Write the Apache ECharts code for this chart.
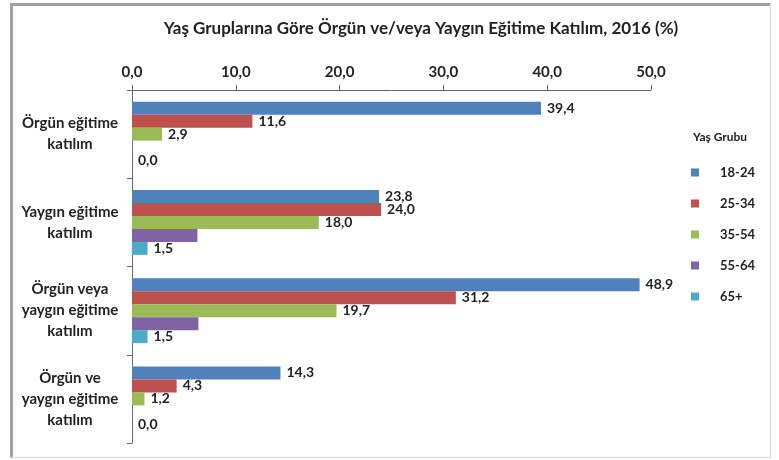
<!DOCTYPE html>
<html><head><meta charset="utf-8">
<script src="https://cdn.jsdelivr.net/npm/echarts@6/dist/echarts.min.js"></script>
<style>html,body{margin:0;padding:0;background:#fff}#c{width:779px;height:460px}</style>
</head><body><div id="c"></div>
<script>
const categories = ["Örgün eğitime\nkatılım", "Yaygın eğitime\nkatılım", "Örgün veya\nyaygın eğitime\nkatılım", "Örgün ve\nyaygın eğitime\nkatılım"];
const seriesNames = ["18-24", "25-34", "35-54", "55-64", "65+"];
const v1824 = [39.4, 23.8, 48.9, 14.3];
const v2534 = [11.6, 24.0, 31.2, 4.3];
const v3554 = [2.9, 18.0, 19.7, 1.2];
const v5564 = [0.1, 6.3, 6.4, 0.1];
const v65 = [0.0, 1.5, 1.5, 0.0];
const xTicks = [0, 10, 20, 30, 40, 50];
const colors = ["#4F81BD", "#C0504D", "#9BBB59", "#8064A2", "#4BACC6"];
const showLabel = [true, true, true, false, true];

const FONT = "Lato";
const fmt = v => v.toFixed(1).replace('.', ',');
const allData = [v1824, v2534, v3554, v5564, v65];

const chart = echarts.init(document.getElementById('c'), null, {renderer: 'canvas'});
chart.setOption({
  animation: false,
  backgroundColor: '#fff',
  textStyle: {fontFamily: FONT},
  title: {
    text: "Yaş Gruplarına Göre Örgün ve/veya Yaygın Eğitime Katılım, 2016 (%)",
    left: 416, top: 15, textAlign: 'center',
    textStyle: {fontFamily: FONT, fontSize: 17, fontWeight: 'bold', color: '#222'}
  },
  graphic: [
    {type: 'rect', shape: {x: 10, y: 3, width: 3, height: 455}, style: {fill: '#a0a0a0'}, silent: true},
    {type: 'rect', shape: {x: 10, y: 3, width: 761, height: 3}, style: {fill: '#a0a0a0'}, silent: true},
    {type: 'rect', shape: {x: 770, y: 3, width: 1, height: 455}, style: {fill: '#d8d8d8'}, silent: true},
    {type: 'rect', shape: {x: 10, y: 457, width: 761, height: 1}, style: {fill: '#d8d8d8'}, silent: true},
    {type: 'text', left: 693, top: 131, style: {text: 'Yaş Grubu', font: 'bold 12px ' + FONT, fill: '#222'}}
  ],
  legend: {
    orient: 'vertical', left: 686, top: 161,
    itemWidth: 8, itemHeight: 8, itemGap: 18,
    icon: 'rect',
    data: seriesNames,
    textStyle: {fontFamily: FONT, fontSize: 13, fontWeight: 'bold', color: '#222', padding: [0, 0, 0, 16]}
  },
  grid: {left: 132, right: 128, top: 90, bottom: 17, containLabel: false},
  xAxis: {
    type: 'value', position: 'top', min: xTicks[0], max: xTicks[xTicks.length - 1], interval: 10,
    axisLine: {show: true, lineStyle: {color: '#666', width: 1}},
    axisTick: {show: true, length: 5, lineStyle: {color: '#666'}},
    splitLine: {show: false},
    axisLabel: {formatter: v => fmt(v), fontFamily: FONT, fontSize: 15, fontWeight: 'bold', color: '#222', margin: 10}
  },
  yAxis: {
    type: 'category', inverse: true, data: categories,
    axisLine: {show: true, lineStyle: {color: '#666', width: 1}},
    axisTick: {show: true, length: 5, lineStyle: {color: '#666'}},
    axisLabel: {fontFamily: FONT, fontSize: 15, fontWeight: 'bold', color: '#222', align: 'center', margin: 62, lineHeight: 21}
  },
  series: seriesNames.map((name, i) => ({
    name: name, type: 'bar', data: allData[i],
    barWidth: 13, barGap: '0%',
    itemStyle: {color: colors[i]},
    label: {show: showLabel[i], position: 'right', distance: 6, formatter: p => fmt(p.value),
      fontFamily: FONT, fontSize: 14, fontWeight: 'bold', color: '#222'}
  }))
});
</script></body></html>
